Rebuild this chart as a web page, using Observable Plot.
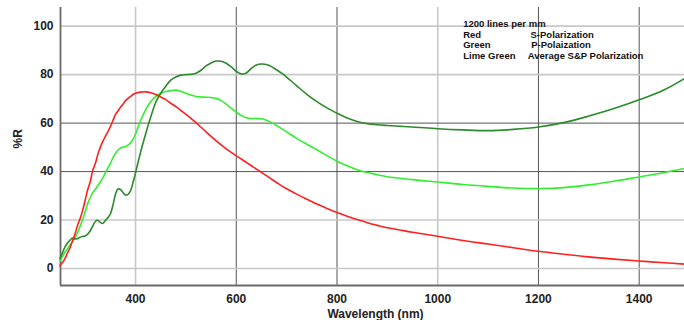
<!DOCTYPE html>
<html>
<head>
<meta charset="utf-8">
<script src="https://cdn.jsdelivr.net/npm/d3@7"></script>
<script src="https://cdn.jsdelivr.net/npm/@observablehq/plot@0.6"></script>
<style>
  html, body { margin: 0; padding: 0; background: #fff; }
  #chart svg { display: block; }
</style>
</head>
<body>
<div id="chart"></div>
<script>
const wavelengths = [250,255,260,265,270,275,280,285,290,295,300,305,310,315,320,325,330,335,340,345,350,355,360,365,370,375,380,385,390,395,400,410,420,430,440,450,460,470,480,490,500,510,520,530,540,550,560,570,580,590,600,610,620,630,640,650,660,670,680,690,700,720,740,760,780,800,820,840,860,880,900,950,1000,1050,1100,1150,1200,1250,1300,1350,1400,1450,1490];

const sPolarization = [1.2,2.5,4.1,6.5,8.6,11.5,14.4,17.9,20.6,24,28.2,32.5,35.8,40.5,43.2,47,50,52.5,54.5,56.5,58.5,61,63.5,65,66.5,67.8,69.2,70.2,71,71.8,72.3,72.8,72.9,72.5,71.8,70.8,69.7,68.2,66.8,65.2,63.6,62,60.2,58.3,56.4,54.5,52.7,51,49.4,47.9,46.5,45.2,43.8,42.4,41,39.7,38.3,36.9,35.5,34.1,32.9,30.7,28.6,26.6,24.8,23.1,21.6,20.2,18.9,17.8,16.8,15,13.3,11.6,10.1,8.6,7.1,5.9,4.8,3.9,3.1,2.4,1.8];

const pPolarization = [4.1,6.5,8.9,10.5,11.7,12.6,12.2,12.4,12.9,13.2,13.4,14.2,15.6,17.5,19.4,19.9,19,18.6,19.8,21,22.5,26,30.5,32.8,32.6,31.4,30.3,30.6,32,35.5,39.5,48,55.5,62.4,68.5,72.3,75.2,77.7,79,79.8,80,80.1,80.6,81.8,83.6,84.8,85.6,85.5,84.7,83.2,81.4,80.3,80.7,82.6,84,84.4,84.2,83.3,82,80.6,79,75.4,71.9,68.9,66.3,64.1,62.1,60.7,59.8,59.3,59,58.4,57.7,57.2,56.9,57.4,58.4,60.2,62.9,66,69.6,73.8,78.4];

const averagePolarization = [3.2,5,6.8,8.2,9.7,11.2,12.8,14.8,17.5,20.2,23.4,26.8,29.3,31.3,32.6,34.1,35.7,37.4,39.5,41.4,43.3,45.6,47.5,48.8,49.7,50.1,50.4,50.9,51.8,53.3,55.5,61,65.5,68.8,70.9,72.2,73,73.4,73.6,73.1,72.3,71.6,71,70.8,70.7,70.6,70.2,69.3,67.8,66.1,64.5,63.1,62.2,61.9,61.9,61.8,61.2,60.2,59,57.7,56.4,53.7,51.3,49,46.6,44.3,42.4,40.8,39.6,38.7,37.9,36.7,35.7,34.7,33.9,33.2,33,33.4,34.5,36,37.8,39.6,41.3];

const xTicks = [400, 600, 800, 1000, 1200, 1400];
const yTicks = [0, 20, 40, 60, 80, 100];
const xGridLight = [400, 1000];
const xGridDark = [600, 800, 1200, 1400];
const yGridLight = [0, 20, 80, 100];
const yGridDark = [40, 60];
const xDomain = [251, 1490];
const yDomain = [-7, 107.7];

const xLabel = "Wavelength (nm)";
const yLabel = "%R";
const legendTitle = "1200 lines per mm";
const legendLabels = ["Red", "Green", "Lime Green"];
const legendDescriptions = ["S-Polarization", "P-Polaization", "Average S&P Polarization"];

const series = [
  {name: "S", values: sPolarization, color: "#ff1f1f"},
  {name: "P", values: pPolarization, color: "#2b8a2b"},
  {name: "Avg", values: averagePolarization, color: "#2ef02e"}
];

const rows = [];
for (const s of series) {
  wavelengths.forEach((w, i) => rows.push({series: s.name, wavelength: w, value: s.values[i], color: s.color}));
}
const drawOrder = ["Avg", "P", "S"];

const font = "'Liberation Sans', Arial, Helvetica, sans-serif";

const legendDy = [27.3, 37.7, 48];
const legendDescDx = [470, 470.7, 467.3];

const legendMarks = [
  Plot.text([legendTitle], {frameAnchor: "top-left", dx: 402.7, dy: 16.3, textAnchor: "start", lineAnchor: "middle", fontSize: 9.5, fontWeight: "bold", fill: "#111"})
];
legendLabels.forEach((lab, i) => {
  legendMarks.push(Plot.text([lab], {frameAnchor: "top-left", dx: 402.7, dy: legendDy[i], textAnchor: "start", lineAnchor: "middle", fontSize: 9.5, fontWeight: "bold", fill: "#111"}));
  legendMarks.push(Plot.text([legendDescriptions[i]], {frameAnchor: "top-left", dx: legendDescDx[i], dy: legendDy[i], textAnchor: "start", lineAnchor: "middle", fontSize: 9.5, fontWeight: "bold", fill: "#111"}));
});

const chart = Plot.plot({
  width: 684,
  height: 320,
  marginLeft: 60,
  marginRight: 0,
  marginTop: 7,
  marginBottom: 35,
  style: {fontFamily: font, fontSize: "12px", fontWeight: "bold", color: "#222", background: "#fff"},
  x: {domain: xDomain},
  y: {domain: yDomain},
  marks: [
    Plot.gridX(xGridLight, {stroke: "#c8c8c8", strokeOpacity: 1, strokeWidth: 1.6}),
    Plot.gridX(xGridDark, {stroke: "#555", strokeOpacity: 1, strokeWidth: 1}),
    Plot.gridY(yGridLight, {stroke: "#c8c8c8", strokeOpacity: 1, strokeWidth: 1.6}),
    Plot.gridY(yGridDark, {stroke: "#555", strokeOpacity: 1, strokeWidth: 1}),
    Plot.axisX(xTicks, {tickSize: 0, tickPadding: 9, tickFormat: d => String(d), label: null, fontSize: 12, fontWeight: "bold", fill: "#222"}),
    Plot.axisY(yTicks, {tickSize: 0, tickPadding: 7, tickFormat: d => String(d), label: null, fontSize: 12, fontWeight: "bold", fill: "#222"}),
    Plot.ruleX([xDomain[0]], {stroke: "#6a6a6a", strokeWidth: 1.8}),
    Plot.ruleY([yDomain[0]], {stroke: "#6a6a6a", strokeWidth: 1.8}),
    ...drawOrder.map(name => Plot.line(rows.filter(d => d.series === name), {x: "wavelength", y: "value", stroke: "color", strokeWidth: 1.6, curve: "catmull-rom"})),
    Plot.text([xLabel], {frameAnchor: "bottom", dx: 3, dy: 29, lineAnchor: "middle", fontSize: 12, fontWeight: "bold", fill: "#222"}),
    Plot.text([yLabel], {frameAnchor: "left", dx: -42, dy: 2, rotate: -90, lineAnchor: "middle", fontSize: 12, fontWeight: "bold", fill: "#222"}),
    ...legendMarks
  ]
});

document.getElementById("chart").appendChild(chart);
</script>
</body>
</html>
